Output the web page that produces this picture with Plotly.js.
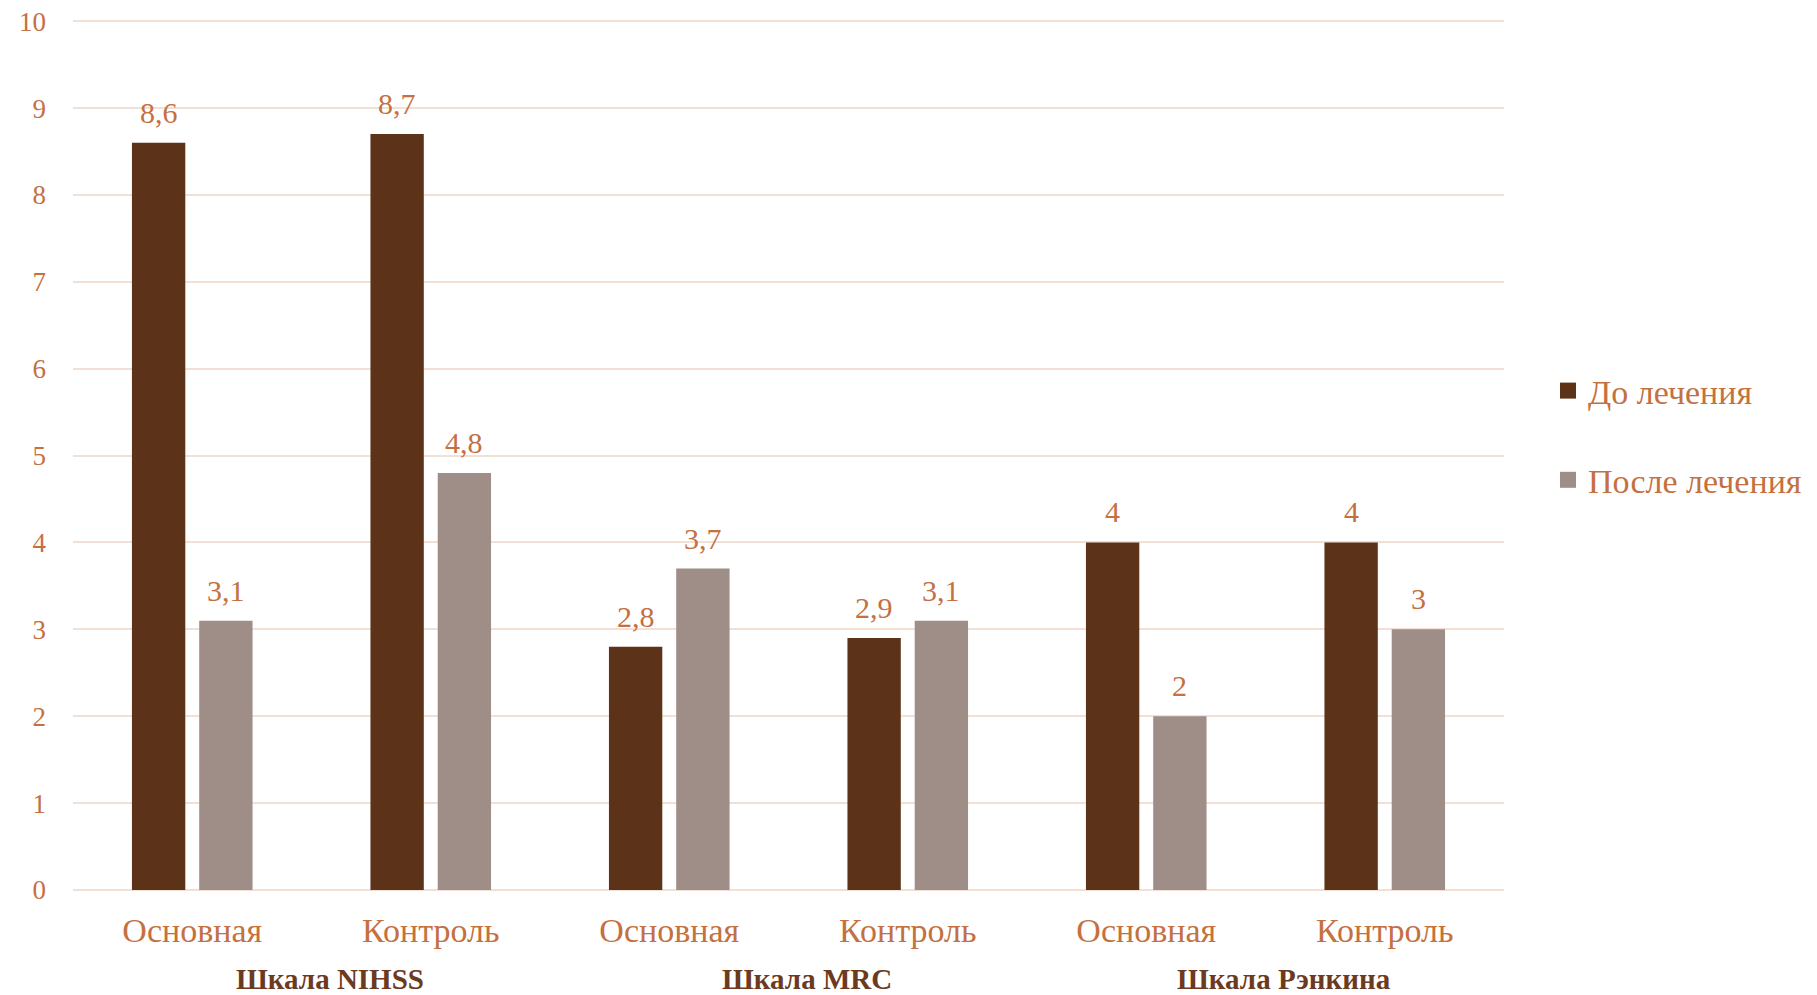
<!DOCTYPE html>
<html>
<head>
<meta charset="utf-8">
<script src="https://cdn.plot.ly/plotly-3.0.1.min.js"></script>
<style>html,body{margin:0;padding:0;background:#fff;}#chart{width:1817px;height:995px;}</style>
</head>
<body>
<div id="chart"></div>
<script>
const groups = ["Шкала NIHSS", "Шкала NIHSS", "Шкала MRC", "Шкала MRC", "Шкала Рэнкина", "Шкала Рэнкина"];
const subs = ["Основная", "Контроль", "Основная", "Контроль", "Основная", "Контроль"];
const groupLabels = ["Шкала NIHSS", "Шкала MRC", "Шкала Рэнкина"];
const seriesNames = ["До лечения", "После лечения"];
const before = [8.6, 8.7, 2.8, 2.9, 4, 4];
const after = [3.1, 4.8, 3.7, 3.1, 2, 3];
const yTicks = [0, 1, 2, 3, 4, 5, 6, 7, 8, 9, 10];

const FONT = "Liberation Serif, Times New Roman, serif";
const ORANGE = "#C5703F";
const DARK = "#5C3219";
const GRAY = "#9E8E87";
const GRID = "#F2E0D5";
const colors = [DARK, GRAY];

const keys = groups.map((g, i) => g + "|" + i);

const traces = [
  {type: "bar", name: seriesNames[0], x: keys, y: before, marker: {color: DARK}, showlegend: false, hoverinfo: "none"},
  {type: "bar", name: seriesNames[1], x: keys, y: after, marker: {color: GRAY}, showlegend: false, hoverinfo: "none"}
];
// legend entries with larger square swatches
seriesNames.forEach((n, s) => {
  traces.push({type: "scatter", mode: "markers", name: n, x: [null], y: [null],
    marker: {symbol: "square", size: 17, color: colors[s]}, legendgroup: "g" + s, hoverinfo: "none"});
});

const fmt = v => String(v).replace(".", ",");
const annotations = [];
[before, after].forEach((arr, s) => {
  arr.forEach((v, i) => {
    annotations.push({
      xref: "x", yref: "y", x: keys[i], y: v, text: fmt(v),
      showarrow: false, yanchor: "bottom", xshift: s === 0 ? -33.6 : 33.6, yshift: 12,
      font: {family: FONT, size: 30, color: ORANGE}
    });
  });
});
groupLabels.forEach((g, j) => {
  annotations.push({
    xref: "x", yref: "paper", x: 2 * j + 0.5, y: -0.1024, yanchor: "middle", xshift: 18,
    text: "<b>" + g + "</b>", showarrow: false,
    font: {family: FONT, size: 29, color: "#6B3A1F"}
  });
});

const layout = {
  width: 1817, height: 995,
  margin: {l: 73, r: 313, t: 19, b: 105, pad: 0},
  paper_bgcolor: "#fff", plot_bgcolor: "#fff",
  barmode: "group", bargap: 0.436, bargroupgap: 0.207,
  font: {family: FONT, color: ORANGE},
  xaxis: {
    type: "category", tickmode: "array", tickvals: keys, ticktext: subs,
    showgrid: false, showline: false, zeroline: false, ticks: "",
    tickfont: {family: FONT, size: 34, color: ORANGE}, ticklabelstandoff: 17
  },
  yaxis: {
    range: [0, 10.025], tickmode: "array", tickvals: yTicks, ticktext: yTicks.map(String),
    showgrid: true, gridcolor: GRID, gridwidth: 2, zeroline: true, zerolinecolor: GRID, zerolinewidth: 2,
    showline: false, ticks: "", tickfont: {family: FONT, size: 27, color: ORANGE}, ticklabelstandoff: 26
  },
  showlegend: true,
  legend: {
    xref: "container", yref: "container", x: 1548 / 1817, y: 1 - 435.5 / 995, xanchor: "left", yanchor: "middle",
    traceorder: "grouped", tracegroupgap: 42, font: {family: FONT, size: 34, color: ORANGE},
    bgcolor: "rgba(0,0,0,0)"
  },
  annotations: annotations
};

Plotly.newPlot("chart", traces, layout, {staticPlot: true, displayModeBar: false});
</script>
</body>
</html>
